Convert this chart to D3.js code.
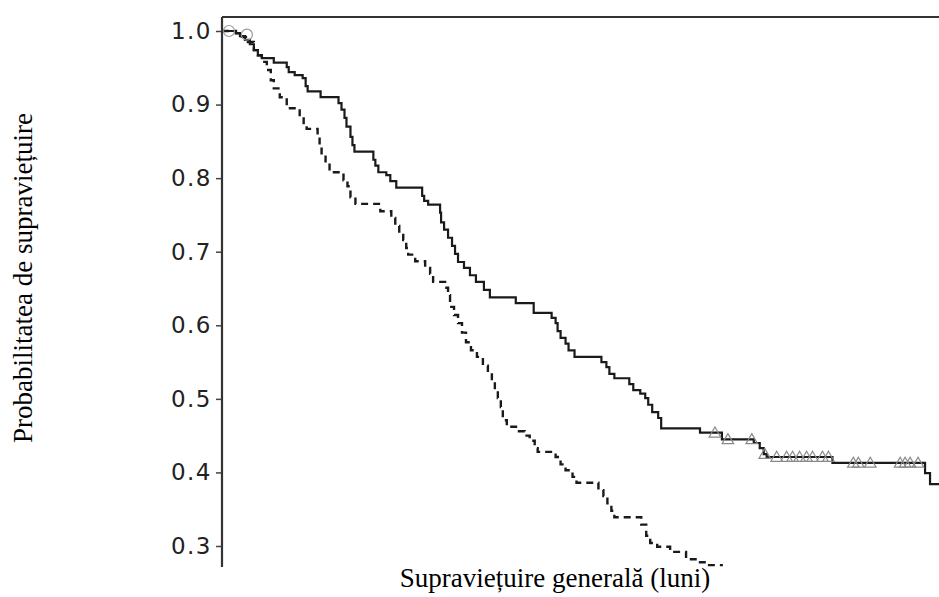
<!DOCTYPE html>
<html>
<head>
<meta charset="utf-8">
<script src="https://cdn.jsdelivr.net/npm/d3@7"></script>
<style>
  html, body { margin: 0; padding: 0; background: #fff; }
  svg { display: block; }
</style>
</head>
<body>
<svg id="chart" width="939" height="597"></svg>
<script>
// ---- Data ----
const yTicks = [0.3, 0.4, 0.5, 0.6, 0.7, 0.8, 0.9, 1.0];

// Solid curve (group A): step times (months) and survival after each step
const solidTimes = [0,1.4,1.8,2.3,2.8,3.2,3.6,4.0,5.2,6.5,6.7,7.3,8.1,8.4,8.6,9.9,11.7,12.0,12.3,12.5,12.9,13.1,13.3,15.2,15.4,15.7,16.5,16.9,17.5,20.1,20.3,20.7,21.9,22.0,22.3,22.7,23.1,23.4,23.7,24.3,24.9,25.5,26.3,26.9,29.5,31.3,33.1,33.5,33.7,34.0,34.5,34.8,35.4,38.1,38.6,38.9,39.4,40.9,41.3,42.0,42.5,42.8,43.2,43.8,44.1,48.0,50.2,53.4,54.0,54.4,54.7,61.3,70.6,71.1,72];
const solidSurv  = [1.0,0.997,0.993,0.988,0.982,0.974,0.967,0.963,0.957,0.951,0.944,0.940,0.936,0.925,0.918,0.910,0.902,0.893,0.882,0.870,0.856,0.845,0.836,0.825,0.817,0.808,0.804,0.796,0.787,0.776,0.769,0.764,0.753,0.740,0.730,0.719,0.708,0.697,0.686,0.678,0.668,0.659,0.648,0.638,0.630,0.617,0.610,0.603,0.592,0.583,0.575,0.566,0.557,0.550,0.543,0.534,0.528,0.520,0.512,0.507,0.501,0.492,0.482,0.474,0.460,0.454,0.445,0.440,0.433,0.425,0.421,0.413,0.399,0.384,0.384];

// Dashed curve (group B)
const dashedTimes = [0,1.4,2.0,2.6,3.2,3.6,4.0,4.5,4.9,5.2,5.8,6.5,7.8,8.2,8.5,9.6,9.8,10.0,10.4,10.8,12.2,12.6,12.9,13.4,15.9,17.0,17.4,17.8,18.2,18.5,18.7,19.4,20.4,20.9,21.2,22.4,22.7,22.9,23.3,23.7,24.1,24.5,25.0,25.6,26.2,26.7,27.1,27.4,27.7,28.0,28.2,28.6,29.7,30.4,30.9,31.4,31.7,33.5,34.0,34.5,35.2,35.6,37.8,38.3,38.7,39.1,39.4,42.1,42.6,43.0,43.7,45.0,46.6,47.7,48.7,50.3];
const dashedSurv  = [1.0,0.997,0.992,0.985,0.974,0.967,0.958,0.947,0.933,0.922,0.910,0.895,0.884,0.873,0.867,0.856,0.844,0.831,0.821,0.808,0.797,0.789,0.774,0.765,0.755,0.746,0.735,0.725,0.716,0.705,0.696,0.687,0.678,0.670,0.659,0.651,0.641,0.625,0.614,0.603,0.590,0.577,0.566,0.557,0.545,0.535,0.524,0.512,0.501,0.489,0.471,0.462,0.456,0.450,0.443,0.433,0.428,0.421,0.411,0.403,0.394,0.386,0.376,0.368,0.358,0.348,0.339,0.329,0.314,0.304,0.299,0.292,0.282,0.278,0.274,0.274];

// Censoring marks
const triangleTimes = [49.5,50.8,53.2,54.5,55.7,56.7,57.3,58.0,58.7,59.3,60.3,60.9,63.4,63.9,65.1,68.1,68.6,69.1,69.9];
const circleTimes = [0.7, 2.5];
const circleSurv  = [1.0, 0.995];

const yLabel = "Probabilitatea de supraviețuire";
const xLabel = "Supraviețuire generală (luni)";

// ---- Layout ----
const svg = d3.select("#chart");
const plotLeft = 222, plotRight = 939, plotTop = 17, plotBottom = 567;

const x = d3.scaleLinear().domain([0, 72]).range([plotLeft, plotRight]);
const y = d3.scaleLinear().domain([0.3, 1.0]).range([546, 31]);

svg.append("defs").append("clipPath").attr("id", "clip")
  .append("rect")
  .attr("x", plotLeft).attr("y", plotTop)
  .attr("width", plotRight - plotLeft).attr("height", plotBottom - plotTop);

const solid = solidTimes.map((t, i) => ({t, s: solidSurv[i]}));
const dashed = dashedTimes.map((t, i) => ({t, s: dashedSurv[i]}));

const line = d3.line().x(d => x(d.t)).y(d => y(d.s)).curve(d3.curveStepAfter);

const g = svg.append("g").attr("clip-path", "url(#clip)");

g.append("path").datum(dashed)
  .attr("d", line)
  .attr("fill", "none")
  .attr("stroke", "#1a1a1a")
  .attr("stroke-width", 2.4)
  .attr("stroke-dasharray", "7,5");

g.append("path").datum(solid)
  .attr("d", line)
  .attr("fill", "none")
  .attr("stroke", "#1a1a1a")
  .attr("stroke-width", 2.2);

// step lookup for censor marks
const bis = d3.bisector(d => d.t).right;
const survAt = (data, t) => data[Math.max(0, bis(data, t) - 1)].s;

g.selectAll("path.tri").data(triangleTimes).join("path")
  .attr("class", "tri")
  .attr("transform", t => `translate(${x(t)},${y(survAt(solid, t)) + 1})`)
  .attr("d", d3.symbol().type(d3.symbolTriangle).size(58))
  .attr("fill", "none")
  .attr("stroke", "#8a8a8a")
  .attr("stroke-width", 1.2);

g.selectAll("circle.cens").data(circleTimes).join("circle")
  .attr("class", "cens")
  .attr("cx", t => x(t))
  .attr("cy", (t, i) => y(circleSurv[i]))
  .attr("r", 5.5)
  .attr("fill", "none")
  .attr("stroke", "#9a9a9a")
  .attr("stroke-width", 1.2);

// ---- Axes ----
const yAxis = d3.axisLeft(y).tickValues(yTicks).tickFormat(d3.format(".1f")).tickSize(6).tickPadding(4);
const ya = svg.append("g").attr("transform", `translate(${plotLeft},0)`).call(yAxis);
ya.select(".domain").remove();
ya.selectAll(".tick line").attr("stroke", "#444").attr("stroke-width", 1.5);
ya.selectAll(".tick text")
  .attr("font-family", "DejaVu Sans, Verdana, sans-serif")
  .attr("font-size", 23)
  .attr("letter-spacing", "1.5px")
  .attr("fill", "#222");

// axis line and top border
svg.append("line")
  .attr("x1", plotLeft).attr("x2", plotLeft)
  .attr("y1", plotTop).attr("y2", plotBottom)
  .attr("stroke", "#333").attr("stroke-width", 2.2);
svg.append("line")
  .attr("x1", plotLeft).attr("x2", plotRight)
  .attr("y1", plotTop).attr("y2", plotTop)
  .attr("stroke", "#333").attr("stroke-width", 2.2);

// ---- Labels ----
svg.append("text")
  .attr("transform", `translate(32,278) rotate(-90)`)
  .attr("text-anchor", "middle")
  .attr("font-family", "Liberation Serif, Times New Roman, serif")
  .attr("font-size", 27)
  .attr("fill", "#000")
  .text(yLabel);

svg.append("text")
  .attr("x", 555).attr("y", 587)
  .attr("text-anchor", "middle")
  .attr("font-family", "Liberation Serif, Times New Roman, serif")
  .attr("font-size", 27)
  .attr("fill", "#000")
  .text(xLabel);
</script>
</body>
</html>
